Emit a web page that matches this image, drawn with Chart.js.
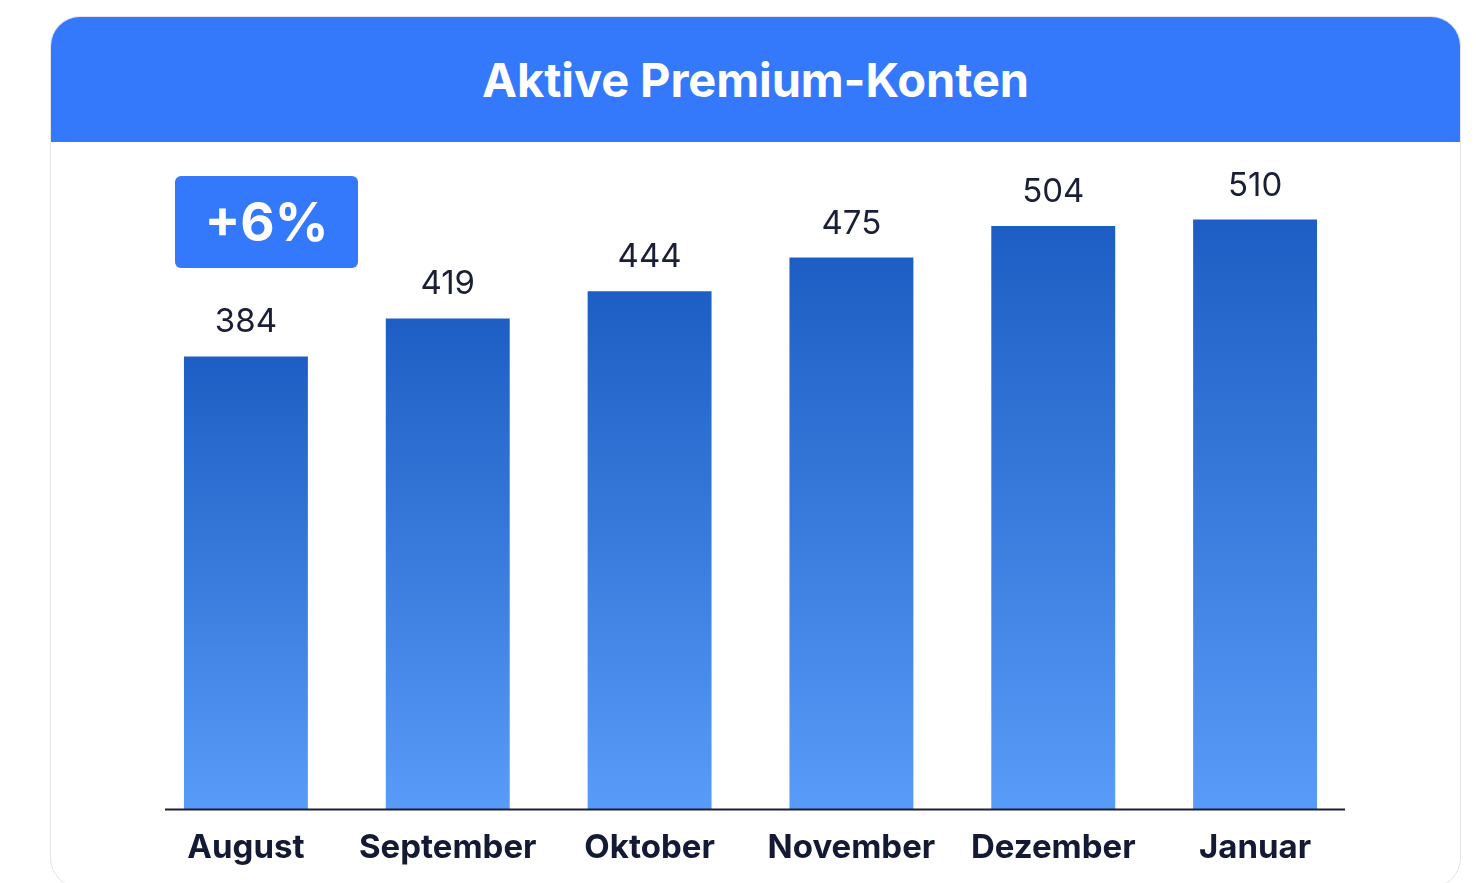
<!DOCTYPE html>
<html>
<head>
<meta charset="utf-8">
<script src="https://cdn.jsdelivr.net/npm/chart.js@4.4.0/dist/chart.umd.min.js"></script>
<style>
  html, body { margin: 0; padding: 0; background: #ffffff; width: 1476px; height: 883px; overflow: hidden; font-family: Inter, "Noto Sans", sans-serif; }
  #card { position: absolute; left: 50px; top: 16px; width: 1411px; height: 872px; border: 1.5px solid #e4e4e6; border-radius: 30px; background: #ffffff; overflow: hidden; box-sizing: border-box; }
  #header { position: absolute; left: 0; top: 0; width: 100%; height: 125px; background: #3478fb; color: #ffffff; font-weight: 700; font-size: 47px; text-align: center; line-height: 125px; letter-spacing: -0.1px; }
  #badge { position: absolute; left: 175px; top: 176px; width: 183px; height: 92px; background: #3478fb; border-radius: 6px; color: #ffffff; font-weight: 700; font-size: 53px; text-align: center; line-height: 92px; z-index: 3; }
  #wrap { position: absolute; left: 0; top: 141px; width: 1476px; height: 763px; z-index: 2; }
</style>
</head>
<body>
<div id="card"><div id="header">Aktive Premium-Konten</div></div>
<div id="badge">+6%</div>
<div id="wrap"><canvas id="c" width="1476" height="763"></canvas></div>
<script>
const categories = ["August", "September", "Oktober", "November", "Dezember", "Januar"];
const accounts = [384, 419, 444, 475, 504, 510];
const axisMin = -33;
const axisMax = 575;

const valueLabels = {
  id: 'valueLabels',
  afterDatasetsDraw(chart) {
    const ctx = chart.ctx;
    const meta = chart.getDatasetMeta(0);
    ctx.save();
    ctx.font = '400 33px Inter, "Noto Sans", sans-serif';
    ctx.fillStyle = '#1a1f36';
    ctx.textAlign = 'center';
    ctx.textBaseline = 'alphabetic';
    meta.data.forEach((el, i) => {
      ctx.fillText(String(accounts[i]), el.x, el.y - 24);
    });
    ctx.restore();
  }
};

const baseLine = {
  id: 'baseLine',
  afterDatasetsDraw(chart) {
    const { ctx, chartArea } = chart;
    const y = chart.scales.y.getPixelForValue(axisMin);
    ctx.save();
    ctx.strokeStyle = '#1a1f36';
    ctx.lineWidth = 2;
    ctx.beginPath();
    ctx.moveTo(chartArea.left + 20, y);
    ctx.lineTo(chartArea.right - 11, y);
    ctx.stroke();
    ctx.restore();
  }
};

function barGradient(context) {
  const chart = context.chart;
  if (!chart.chartArea || context.dataIndex === undefined) return '#3a7fe0';
  const ys = chart.scales.y;
  const top = ys.getPixelForValue(accounts[context.dataIndex]);
  const bottom = ys.getPixelForValue(axisMin);
  const g = chart.ctx.createLinearGradient(0, top, 0, bottom);
  g.addColorStop(0, '#1c5ec3');
  g.addColorStop(1, '#599bf8');
  return g;
}

new Chart(document.getElementById('c'), {
  type: 'bar',
  data: {
    labels: categories,
    datasets: [{
      data: accounts,
      base: axisMin,
      backgroundColor: barGradient,
      borderWidth: 0,
      barPercentage: 0.614,
      categoryPercentage: 1.0
    }]
  },
  options: {
    responsive: false,
    animation: false,
    events: [],
    layout: { padding: { left: 145, right: 120, top: 8, bottom: 17 } },
    plugins: { legend: { display: false }, tooltip: { enabled: false }, title: { display: false } },
    scales: {
      x: {
        grid: { display: false, drawTicks: false },
        border: { display: false },
        ticks: {
          padding: 19,
          color: '#141a33',
          font: { family: 'Inter, "Noto Sans", sans-serif', size: 33, weight: '700', lineHeight: 1.2 }
        }
      },
      y: {
        display: false,
        min: axisMin,
        max: axisMax
      }
    }
  },
  plugins: [valueLabels, baseLine]
});
</script>
</body>
</html>
